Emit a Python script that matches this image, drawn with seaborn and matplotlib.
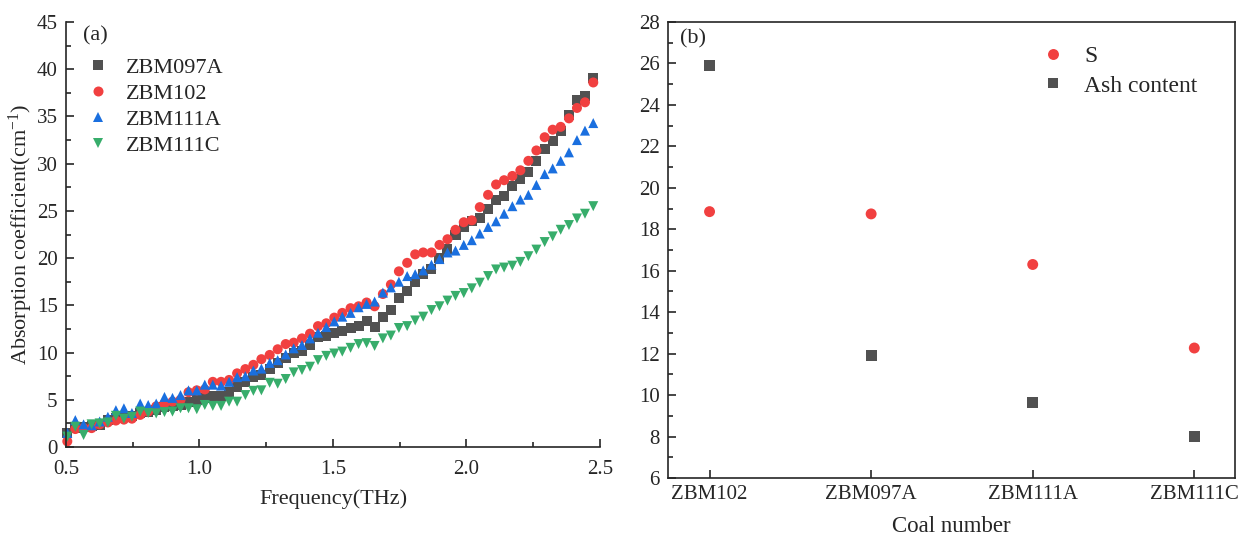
import numpy as np
import pandas as pd
import matplotlib
matplotlib.use("Agg")
import matplotlib.pyplot as plt
from matplotlib.ticker import MultipleLocator
import seaborn as sns

# ---------------- data: panel (a) ----------------
freq = [0.505, 0.535, 0.566, 0.596, 0.626, 0.657, 0.687, 0.717, 0.747, 0.778,
        0.808, 0.838, 0.869, 0.899, 0.929, 0.959, 0.990, 1.020, 1.050, 1.081,
        1.111, 1.141, 1.172, 1.202, 1.232, 1.263, 1.293, 1.323, 1.353, 1.384,
        1.414, 1.444, 1.475, 1.505, 1.535, 1.566, 1.596, 1.626, 1.656, 1.687,
        1.717, 1.747, 1.778, 1.808, 1.838, 1.869, 1.899, 1.929, 1.959, 1.990,
        2.020, 2.050, 2.081, 2.111, 2.141, 2.172, 2.202, 2.232, 2.262, 2.293,
        2.323, 2.353, 2.384, 2.414, 2.444, 2.475]

zbm097a = [1.5, 2.0, 2.1, 2.2, 2.3, 2.9, 3.1, 3.2, 3.3, 3.6,
           3.7, 3.9, 4.2, 4.3, 4.5, 4.8, 5.0, 5.15, 5.4, 5.4,
           5.85, 6.4, 6.9, 7.45, 7.6, 8.25, 8.85, 9.4, 10.0, 10.2,
           10.8, 11.6, 11.8, 12.1, 12.3, 12.6, 12.8, 13.3, 12.7, 13.8,
           14.5, 15.75, 16.5, 17.5, 18.3, 18.8, 20.0, 21.0, 22.5, 23.3,
           23.9, 24.3, 25.2, 26.2, 26.6, 27.6, 28.4, 29.1, 30.3, 31.6,
           32.4, 33.5, 35.2, 36.7, 37.2, 39.05]

zbm102 = [0.6, 1.9, 2.0, 2.0, 2.4, 2.6, 2.8, 2.9, 3.0, 3.4,
          3.75, 4.3, 4.6, 4.8, 5.0, 5.8, 6.0, 6.1, 6.9, 6.9,
          7.1, 7.8, 8.25, 8.7, 9.3, 9.75, 10.35, 10.9, 11.05, 11.5,
          12.0, 12.8, 13.1, 13.7, 14.2, 14.7, 14.9, 15.3, 14.9, 16.2,
          17.2, 18.6, 19.5, 20.4, 20.6, 20.6, 21.4, 22.0, 23.0, 23.8,
          24.0, 25.4, 26.7, 27.8, 28.25, 28.7, 29.3, 30.3, 31.4, 32.8,
          33.6, 33.9, 34.8, 35.9, 36.5, 38.6]

zbm111a = [1.5, 2.85, 2.4, 2.3, 2.7, 3.2, 3.9, 4.1, 3.6, 4.6,
           4.45, 4.6, 5.3, 5.2, 5.5, 6.0, 6.0, 6.6, 6.6, 6.5,
           6.9, 7.4, 7.5, 8.1, 8.3, 8.9, 9.2, 9.8, 10.45, 10.8,
           11.5, 12.1, 12.7, 13.3, 13.8, 14.2, 14.8, 15.15, 15.4, 16.35,
           16.9, 17.5, 18.1, 18.3, 18.7, 19.3, 19.9, 20.6, 20.8, 21.4,
           21.9, 22.6, 23.3, 23.9, 24.7, 25.5, 26.2, 26.7, 27.75, 28.9,
           29.5, 30.3, 31.2, 32.5, 33.5, 34.3]

zbm111c = [1.1, 2.15, 1.27, 2.4, 2.5, 2.6, 3.3, 3.0, 3.2, 3.75,
           3.6, 3.55, 3.7, 3.75, 4.1, 4.1, 4.0, 4.45, 4.35, 4.35,
           4.8, 4.8, 5.5, 5.95, 6.0, 6.8, 6.7, 7.2, 7.9, 8.15,
           8.5, 9.2, 9.65, 9.9, 10.1, 10.5, 10.9, 11.0, 10.7, 11.5,
           11.8, 12.6, 12.8, 13.4, 13.8, 14.5, 14.9, 15.5, 16.0, 16.3,
           16.8, 17.4, 18.1, 18.8, 19.0, 19.2, 19.6, 20.2, 20.9, 21.7,
           22.3, 23.0, 23.5, 24.2, 24.7, 25.5]

series_names = ["ZBM097A", "ZBM102", "ZBM111A", "ZBM111C"]

# ---------------- data: panel (b) ----------------
coal = ["ZBM102", "ZBM097A", "ZBM111A", "ZBM111C"]
s_vals = [18.85, 18.74, 16.3, 12.27]
ash_vals = [25.9, 11.9, 9.62, 8.02]

# ---------------- style ----------------
sns.set_style("ticks")
plt.rcParams["font.family"] = ["Liberation Serif", "DejaVu Serif"]
plt.rcParams["mathtext.fontset"] = "custom"
plt.rcParams["mathtext.rm"] = "Liberation Serif"
plt.rcParams["mathtext.it"] = "Liberation Serif:italic"
plt.rcParams["axes.linewidth"] = 1.2
plt.rcParams["xtick.direction"] = "in"
plt.rcParams["ytick.direction"] = "in"

colors = {"ZBM097A": "#515151", "ZBM102": "#F14040",
          "ZBM111A": "#1A6FDF", "ZBM111C": "#37AD6B"}
markers = {"ZBM097A": "s", "ZBM102": "o", "ZBM111A": "^", "ZBM111C": "v"}

df_a = pd.DataFrame({
    "Frequency": freq * 4,
    "Absorption": zbm097a + zbm102 + zbm111a + zbm111c,
    "Sample": sum([[n] * len(freq) for n in series_names], []),
})

fig = plt.figure(figsize=(12.47, 5.37), dpi=100)
ax1 = fig.add_axes([0.0529, 0.1676, 0.4282, 0.7914])
ax2 = fig.add_axes([0.5357, 0.1099, 0.4547, 0.8492])

sns.scatterplot(data=df_a, x="Frequency", y="Absorption", hue="Sample",
                style="Sample", palette=colors, markers=markers,
                hue_order=series_names, style_order=series_names,
                s=52, linewidth=0, ax=ax1, clip_on=False)
ax1.set_xlim(0.5, 2.5)
ax1.set_ylim(0, 45)
ax1.xaxis.set_major_locator(MultipleLocator(0.5))
ax1.xaxis.set_minor_locator(MultipleLocator(0.25))
ax1.yaxis.set_major_locator(MultipleLocator(5))
ax1.yaxis.set_minor_locator(MultipleLocator(2.5))
ax1.xaxis.set_major_formatter(plt.FuncFormatter(lambda v, p: f"{v:.1f}"))
ax1.set_xlabel("Frequency(THz)", fontsize=16, labelpad=7)
ax1.set_ylabel("Absorption coefficient(cm$^{-1}$)", fontsize=16, labelpad=1.5)
for sp in ["top", "right"]:
    ax1.spines[sp].set_visible(False)
ax1.tick_params(axis="x", which="major", pad=9.5)
ax1.tick_params(axis="y", which="major", pad=6)
ax1.tick_params(which="major", length=6, width=1.2, labelsize=15)
ax1.tick_params(which="minor", length=3.5, width=1.2)
h, l = ax1.get_legend_handles_labels()
ax1.legend(h, l, loc="upper left", bbox_to_anchor=(0.015, 0.949), frameon=False,
           fontsize=16, handlelength=1.0, handletextpad=0.75, labelspacing=0.25,
           borderaxespad=0.2)
ax1.text(0.032, 0.968, "(a)", transform=ax1.transAxes, fontsize=16,
         ha="left", va="center")

# ---------------- panel (b) ----------------
df_b = pd.DataFrame({"Coal": coal * 2,
                     "Value": s_vals + ash_vals,
                     "Kind": ["S"] * 4 + ["Ash content"] * 4})
sns.scatterplot(data=df_b, x="Coal", y="Value", hue="Kind", style="Kind",
                palette={"S": "#F14040", "Ash content": "#515151"},
                markers={"S": "o", "Ash content": "s"},
                hue_order=["S", "Ash content"], style_order=["S", "Ash content"],
                s=62, linewidth=0, ax=ax2)
ax2.set_xlim(-0.257, 3.252)
ax2.set_ylim(6, 28)
ax2.yaxis.set_major_locator(MultipleLocator(2))
ax2.yaxis.set_minor_locator(MultipleLocator(1))
ax2.set_xlabel("Coal number", fontsize=16.5, labelpad=8.5)
ax2.set_ylabel("")
ax2.tick_params(axis="x", which="major", pad=5)
ax2.tick_params(axis="y", which="major", pad=6)
ax2.tick_params(which="major", length=6, width=1.2, labelsize=15)
ax2.tick_params(which="minor", length=3.5, width=1.2)
h2, l2 = ax2.get_legend_handles_labels()
ax2.legend(h2, l2, loc="upper left", bbox_to_anchor=(0.621, 0.994), frameon=False,
           fontsize=17, handlelength=1.0, handletextpad=0.8, labelspacing=0.32)
ax2.text(0.021, 0.962, "(b)", transform=ax2.transAxes, fontsize=16,
         ha="left", va="center")

fig.savefig("out.png", dpi=100)
